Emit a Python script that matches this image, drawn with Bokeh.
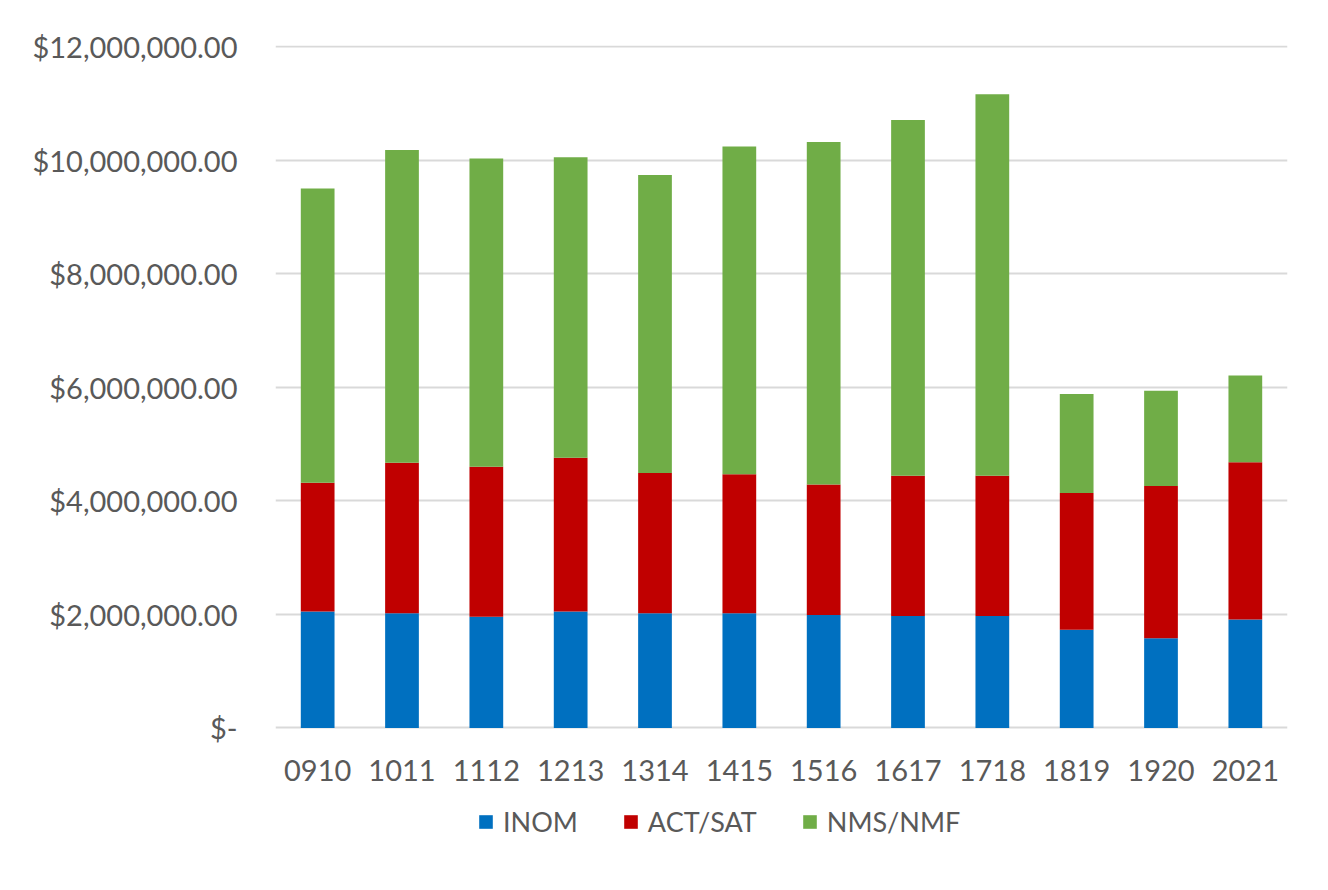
from bokeh.plotting import figure
from bokeh.models import (Range1d, FixedTicker, CustomJSTickFormatter, Legend, LegendItem)
from bokeh.embed import file_html
from bokeh.resources import INLINE

years = ["0910", "1011", "1112", "1213", "1314", "1415", "1516", "1617", "1718", "1819", "1920", "2021"]
inom = [2050000, 2020000, 1960000, 2050000, 2020000, 2020000, 1990000, 1970000, 1970000, 1730000, 1580000, 1910000]
act_sat = [2270000, 2650000, 2640000, 2710000, 2470000, 2450000, 2300000, 2470000, 2470000, 2410000, 2680000, 2770000]
nms_nmf = [5180000, 5510000, 5430000, 5290000, 5250000, 5770000, 6030000, 6270000, 6720000, 1740000, 1680000, 1530000]
series = ["INOM", "ACT/SAT", "NMS/NMF"]
colors = ["#0070C0", "#C00000", "#70AD47"]
y_ticks = [0, 2000000, 4000000, 6000000, 8000000, 10000000, 12000000]

FONT = "Lato"
TXT = "#595959"
FS = "29px"

# frame extends below zero to host the tick labels and legend (axis fixed at y=0)
p = figure(x_range=years, y_range=Range1d(-2440000, 12020000), width=1312, height=874,
           output_backend="svg", toolbar_location=None,
           min_border_left=275, min_border_right=25, min_border_top=45, min_border_bottom=8)
p.styles = {"outline": "3px solid #d9d9d9", "outline-offset": "-5px"}

data = {"years": years, "INOM": inom, "ACT/SAT": act_sat, "NMS/NMF": nms_nmf}
renderers = p.vbar_stack(series, x="years", width=0.4, color=colors, source=data, line_color=None)

p.outline_line_color = None
p.background_fill_color = "white"
p.border_fill_color = "white"

p.xgrid.grid_line_color = None
p.ygrid.grid_line_color = "#d9d9d9"
p.ygrid.grid_line_width = 2
p.ygrid.level = "underlay"

p.yaxis.ticker = FixedTicker(ticks=y_ticks)
p.yaxis.formatter = CustomJSTickFormatter(code="""
if (tick == 0) { return '$-'; }
return '$' + tick.toLocaleString('en-US', {minimumFractionDigits: 2, maximumFractionDigits: 2});
""")
for ax in (p.xaxis, p.yaxis):
    ax.axis_line_color = None
    ax.major_tick_line_color = None
    ax.minor_tick_line_color = None
    ax.major_tick_out = 0
    ax.major_tick_in = 0
    ax.major_label_text_font = FONT
    ax.major_label_text_font_size = FS
    ax.major_label_text_color = TXT
p.yaxis.major_label_standoff = 38
p.xaxis.major_label_standoff = 32
p.xaxis.fixed_location = 0

legend = Legend(items=[LegendItem(label=s, renderers=[r]) for s, r in zip(series, renderers)],
                orientation="horizontal", location=(202, 28),
                glyph_width=17, glyph_height=17, label_standoff=9, spacing=44,
                padding=0, margin=0, border_line_color=None, background_fill_alpha=0,
                label_text_font=FONT, label_text_font_size="27px", label_text_color=TXT)
p.add_layout(legend, "center")

open("out.html", "w").write(file_html(p, INLINE))
